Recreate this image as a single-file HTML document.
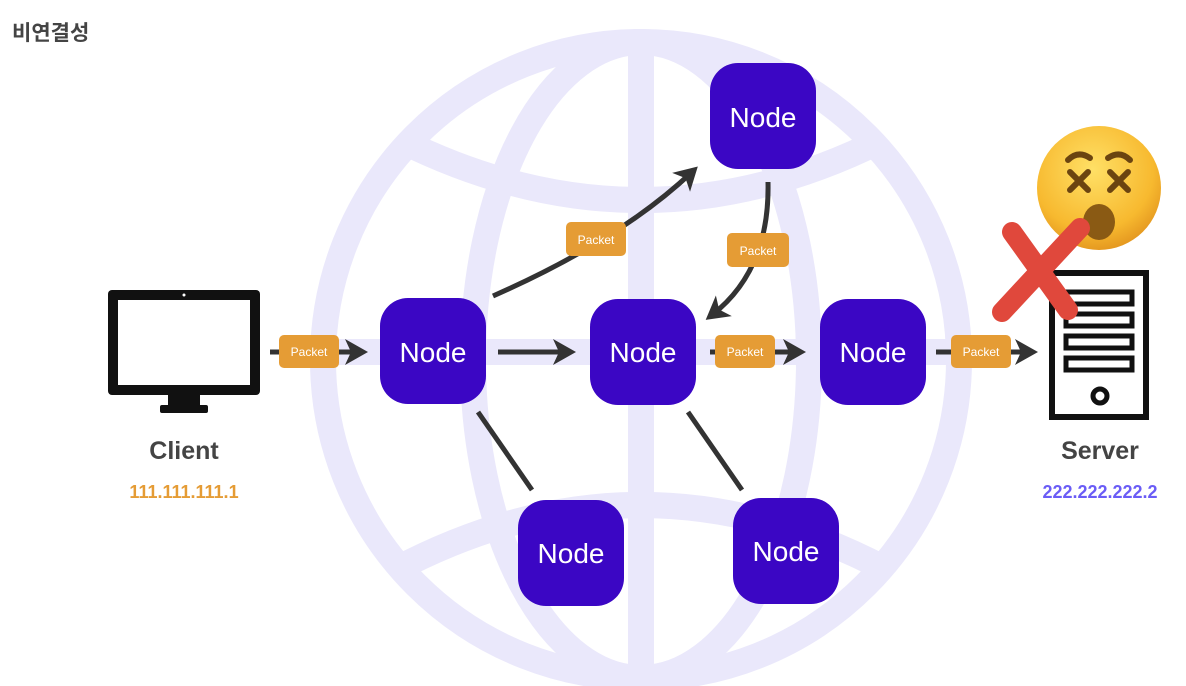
<!DOCTYPE html>
<html><head><meta charset="utf-8"><style>
html,body{margin:0;padding:0;background:#fff;}
svg{display:block}
text{font-family:"Liberation Sans","Noto Sans CJK KR",sans-serif}
</style></head><body>
<svg width="1186" height="686" viewBox="0 0 1186 686" xmlns="http://www.w3.org/2000/svg">
<defs>
<marker id="ah" markerWidth="6" markerHeight="6" refX="3" refY="3" orient="auto" markerUnits="strokeWidth">
<path d="M0,0.4 L4.6,3 L0,5.6 L1.2,3 Z" fill="#333"/>
</marker>
<radialGradient id="face" cx="0.45" cy="0.35" r="0.7">
<stop offset="0" stop-color="#ffe066"/><stop offset="0.7" stop-color="#f7b92f"/><stop offset="1" stop-color="#e0901c"/>
</radialGradient>
</defs>
<text x="12" y="40" font-size="21" font-weight="bold" fill="#444">비연결성</text>
<!-- globe -->
<g fill="none" stroke="#eae8fb" stroke-width="26">
<circle cx="641" cy="360" r="318"/>
<ellipse cx="641" cy="360" rx="168" ry="318"/>
<line x1="641" y1="42" x2="641" y2="678"/>
<line x1="323" y1="352" x2="959" y2="352"/>
<path d="M400 140 Q641 260 882 140"/>
<path d="M395 570 Q641 440 887 570"/>
</g>
<!-- client monitor -->
<rect x="108" y="290" width="152" height="105" rx="4" fill="#111"/>
<rect x="118" y="300" width="132" height="85" fill="#fff"/>
<circle cx="184" cy="295" r="1.5" fill="#fff"/>
<rect x="168" y="395" width="32" height="12" fill="#111"/>
<rect x="160" y="405" width="48" height="8" rx="2" fill="#111"/>
<text x="184" y="459" font-size="25" font-weight="bold" fill="#444" text-anchor="middle">Client</text>
<text x="184" y="498" font-size="18" font-weight="bold" fill="#e59c35" text-anchor="middle">111.111.111.1</text>
<!-- server -->
<rect x="1052" y="273" width="94" height="144" fill="#fff" stroke="#111" stroke-width="6"/>
<g fill="none" stroke="#111" stroke-width="5">
<rect x="1066" y="292" width="66" height="12"/>
<rect x="1066" y="314" width="66" height="12"/>
<rect x="1066" y="336" width="66" height="12"/>
<rect x="1066" y="358" width="66" height="12"/>
<circle cx="1100" cy="396" r="7"/>
</g>
<text x="1100" y="459" font-size="25" font-weight="bold" fill="#444" text-anchor="middle">Server</text>
<text x="1100" y="498" font-size="18" font-weight="bold" fill="#6a5cf6" text-anchor="middle">222.222.222.2</text>
<!-- emoji -->
<circle cx="1099" cy="188" r="62" fill="url(#face)"/>
<g stroke="#6b4410" stroke-width="6" stroke-linecap="round" fill="none">
<path d="M1068 160 Q1078 150 1090 158"/><path d="M1108 158 Q1120 150 1130 160"/>
<path d="M1070 172 L1088 190 M1088 172 L1070 190"/>
<path d="M1110 172 L1128 190 M1128 172 L1110 190"/>
</g>
<ellipse cx="1099" cy="222" rx="16" ry="18" fill="#8a5a14"/>
<!-- red X -->
<g stroke="#e0483c" stroke-width="20" stroke-linecap="round">
<line x1="1012" y1="232" x2="1068" y2="310"/>
<line x1="1080" y1="228" x2="1002" y2="312"/>
</g>
<!-- connectors -->
<g stroke="#333" stroke-width="5" fill="none">
<line x1="270" y1="352" x2="360" y2="352" marker-end="url(#ah)"/>
<line x1="498" y1="352" x2="568" y2="352" marker-end="url(#ah)"/>
<line x1="710" y1="352" x2="798" y2="352" marker-end="url(#ah)"/>
<line x1="936" y1="352" x2="1030" y2="352" marker-end="url(#ah)"/>
<path d="M493 296 Q620 240 692 172" marker-end="url(#ah)"/>
<path d="M768 182 Q770 270 712 315" marker-end="url(#ah)"/>
<line x1="478" y1="412" x2="532" y2="490"/>
<line x1="688" y1="412" x2="742" y2="490"/>
</g>
<!-- packets -->
<g font-size="12" fill="#fff" text-anchor="middle">
<rect x="279" y="335" width="60" height="33" rx="5" fill="#e59c35"/><text x="309" y="356">Packet</text>
<rect x="566" y="222" width="60" height="34" rx="5" fill="#e59c35"/><text x="596" y="244">Packet</text>
<rect x="727" y="233" width="62" height="34" rx="5" fill="#e59c35"/><text x="758" y="255">Packet</text>
<rect x="715" y="335" width="60" height="33" rx="5" fill="#e59c35"/><text x="745" y="356">Packet</text>
<rect x="951" y="335" width="60" height="33" rx="5" fill="#e59c35"/><text x="981" y="356">Packet</text>
</g>
<!-- nodes -->
<g fill="#3b06c4">
<rect x="380" y="298" width="106" height="106" rx="28"/>
<rect x="590" y="299" width="106" height="106" rx="28"/>
<rect x="820" y="299" width="106" height="106" rx="28"/>
<rect x="710" y="63" width="106" height="106" rx="28"/>
<rect x="518" y="500" width="106" height="106" rx="28"/>
<rect x="733" y="498" width="106" height="106" rx="28"/>
</g>
<g font-size="28" fill="#fff" text-anchor="middle">
<text x="433" y="362">Node</text>
<text x="643" y="362">Node</text>
<text x="873" y="362">Node</text>
<text x="763" y="127">Node</text>
<text x="571" y="563">Node</text>
<text x="786" y="561">Node</text>
</g>
</svg>
</body></html>
